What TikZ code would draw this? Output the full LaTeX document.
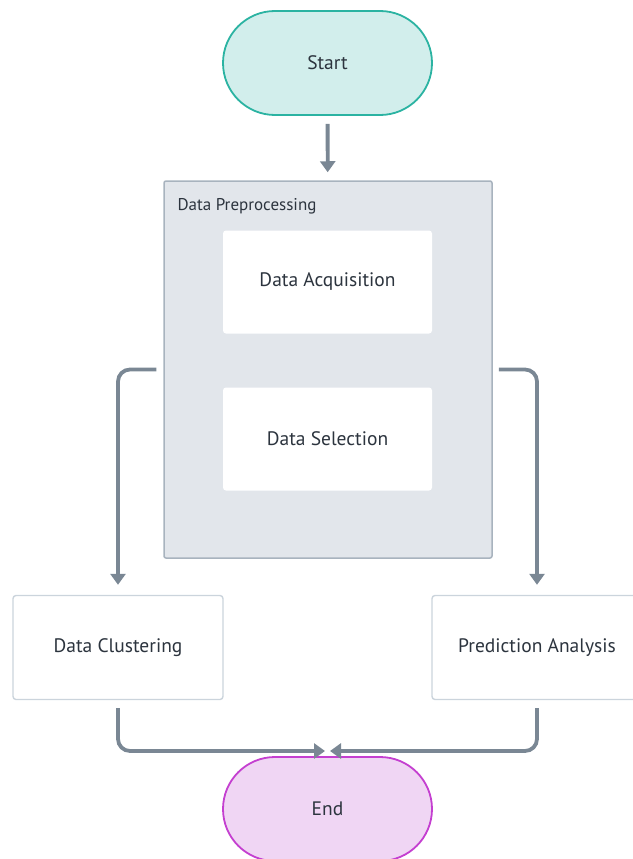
\documentclass[tikz,border=0pt]{standalone}
\usepackage{fontspec}
\setmainfont{PT Sans}
\usetikzlibrary{arrows.meta}

\definecolor{startfill}{HTML}{D2EEEC}
\definecolor{startline}{HTML}{2BB3A2}
\definecolor{endfill}{HTML}{F0D6F4}
\definecolor{endline}{HTML}{C43FD0}
\definecolor{groupfill}{HTML}{E2E6EB}
\definecolor{groupline}{HTML}{A8B3BE}
\definecolor{boxline}{HTML}{CBD4DC}
\definecolor{arrowcol}{HTML}{7A8794}
\definecolor{textcol}{HTML}{2C343E}

\begin{document}
\begin{tikzpicture}[
    x=1pt, y=-1pt,
    >={Triangle[length=11pt,width=15pt]},
    every node/.style={text=textcol, font=\fontsize{19.5}{23}\selectfont},
    terminal/.style={rectangle, rounded corners=52pt, line width=1.8pt,
        minimum width=209pt, minimum height=104pt},
    group/.style={rectangle, rounded corners=2pt, fill=groupfill, draw=groupline,
        line width=1.5pt, minimum width=328pt, minimum height=377pt},
    inner/.style={rectangle, rounded corners=3pt, fill=white,
        minimum width=209pt, minimum height=103pt},
    task/.style={rectangle, rounded corners=3pt, fill=white, draw=boxline,
        line width=1.4pt, minimum width=210pt, minimum height=104pt},
    flow/.style={->, line width=3.8pt, arrowcol, rounded corners=12pt}
]
\useasboundingbox (0,0) rectangle (632,859);

% Terminals
\node[terminal, fill=startfill, draw=startline] (start) at (327.5,63) {Start};
\node[terminal, fill=endfill, draw=endline] (end) at (327.5,809) {End};

% Preprocessing group
\node[group] (prep) at (328,369.5) {};
\node[anchor=west, font=\fontsize{17}{20}\selectfont] (preplabel) at (174,206) {Data Preprocessing};
\node[inner] (acq) at (327.5,282) {Data Acquisition};
\node[inner] (sel) at (327.5,439) {Data Selection};

% Analysis tasks
\node[task] (clust) at (118,647.5) {Data Clustering};
\node[task] (pred) at (537,647.5) {Prediction Analysis};

% Connectors
\coordinate (endtop) at (327.5,751);
\draw[flow, shorten <=8pt, shorten >=8pt] (start) -- (prep);
\draw[flow, shorten <=7pt, shorten >=10pt] (prep.west) -| (clust.north);
\draw[flow, shorten <=6pt, shorten >=10pt] (prep.east) -| (pred.north);
\draw[flow, shorten <=8pt, shorten >=2.5pt] (clust.south) |- (endtop);
\draw[flow, shorten <=8pt, shorten >=2.5pt] (pred.south) |- (endtop);

\end{tikzpicture}
\end{document}
